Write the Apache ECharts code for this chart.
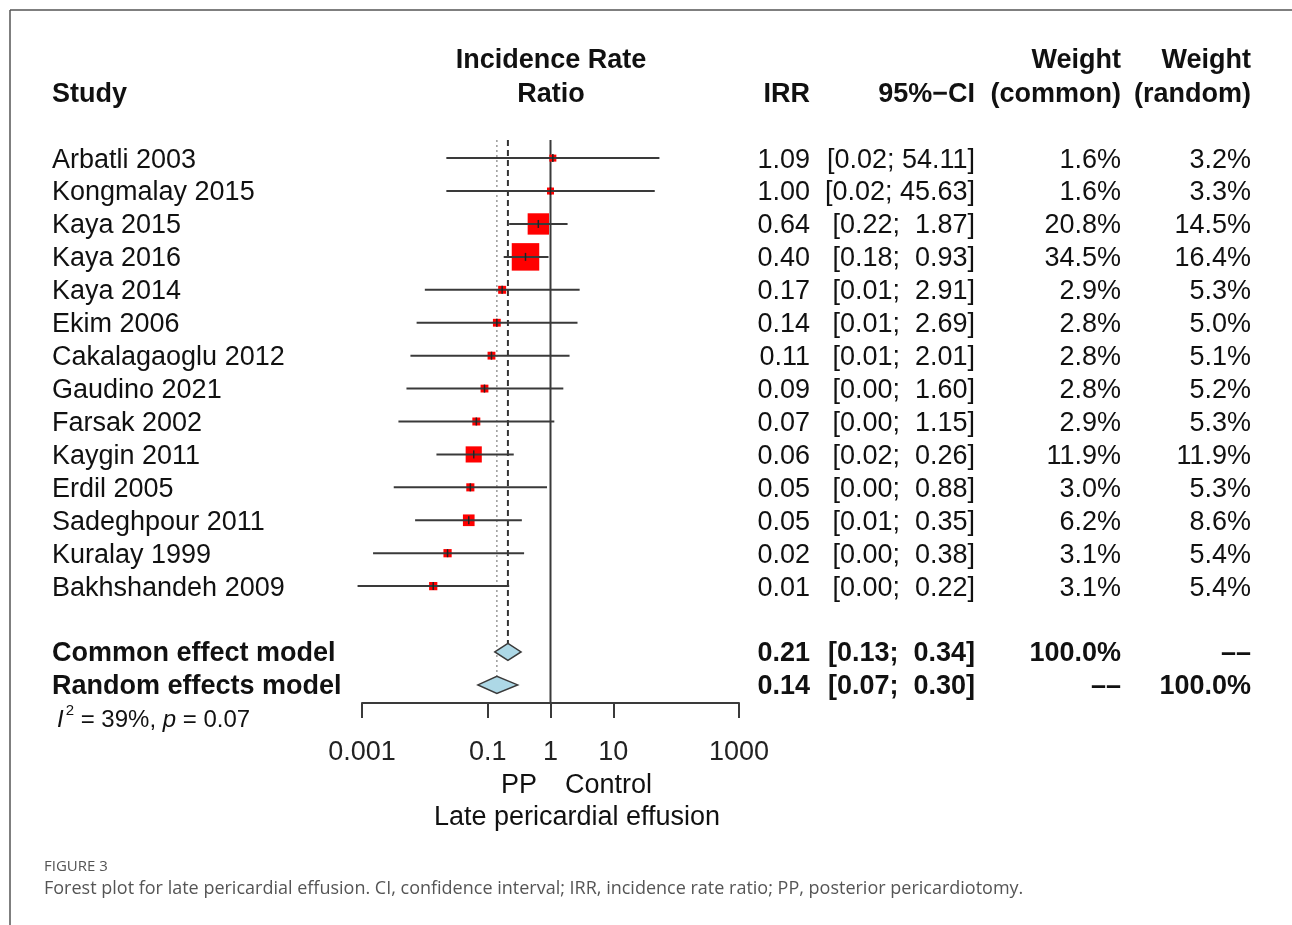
<!DOCTYPE html>
<html>
<head>
<meta charset="utf-8">
<title>Forest plot</title>
<script src="https://cdn.jsdelivr.net/npm/echarts@6/dist/echarts.min.js"></script>
<style>
  html, body { margin: 0; padding: 0; background: #fff; }
  #forest { width: 1292px; height: 925px; }
</style>
</head>
<body>
<div id="forest"></div>
<script>
// study labels
const studies = [
  "Arbatli 2003", "Kongmalay 2015", "Kaya 2015", "Kaya 2016", "Kaya 2014",
  "Ekim 2006", "Cakalagaoglu 2012", "Gaudino 2021", "Farsak 2002", "Kaygin 2011",
  "Erdil 2005", "Sadeghpour 2011", "Kuralay 1999", "Bakhshandeh 2009"
];
// printed columns
const irrText = ["1.09", "1.00", "0.64", "0.40", "0.17", "0.14", "0.11", "0.09", "0.07", "0.06", "0.05", "0.05", "0.02", "0.01"];
const ciText = [
  "[0.02; 54.11]", "[0.02; 45.63]", "[0.22;  1.87]", "[0.18;  0.93]", "[0.01;  2.91]",
  "[0.01;  2.69]", "[0.01;  2.01]", "[0.00;  1.60]", "[0.00;  1.15]", "[0.02;  0.26]",
  "[0.00;  0.88]", "[0.01;  0.35]", "[0.00;  0.38]", "[0.00;  0.22]"
];
const weightCommon = [1.6, 1.6, 20.8, 34.5, 2.9, 2.8, 2.8, 2.8, 2.9, 11.9, 3.0, 6.2, 3.1, 3.1];
const weightRandom = [3.2, 3.3, 14.5, 16.4, 5.3, 5.0, 5.1, 5.2, 5.3, 11.9, 5.3, 8.6, 5.4, 5.4];
// plotted estimates (unrounded where the print shows 0.00)
const irrPlot = [1.09, 1.00, 0.64, 0.40, 0.17, 0.14, 0.115, 0.089, 0.066, 0.06, 0.053, 0.05, 0.023, 0.0136];
const lowPlot = [0.022, 0.022, 0.22, 0.18, 0.010, 0.0074, 0.0059, 0.0051, 0.0038, 0.0153, 0.0032, 0.007, 0.0015, 0.00085];
const highPlot = [54.11, 45.63, 1.87, 0.93, 2.91, 2.69, 2.01, 1.60, 1.15, 0.26, 0.88, 0.35, 0.38, 0.22];

// pooled models
const pooledNames = ["Common effect model", "Random effects model"];
const pooledEst = [0.21, 0.14];
const pooledLow = [0.13, 0.07];
const pooledHigh = [0.34, 0.30];
const pooledIrrText = ["0.21", "0.14"];
const pooledCiText = ["[0.13;  0.34]", "[0.07;  0.30]"];
const pooledWcText = ["100.0%", "\u2013\u2013"];
const pooledWrText = ["\u2013\u2013", "100.0%"];

// x axis ticks
const tickValues = [0.001, 0.1, 1, 10, 1000];

const FONT = '"Liberation Sans", Arial, Helvetica, sans-serif';
const FS = 27;
const TY = 2; // nudge text down to the optical centre of each row
const LINE = "#3a3a3a";
const pooledRow0 = studies.length + 1; // blank line before the pooled rows

// table rows built from the arrays above
const tableRows = studies.map((s, i) => ({
  row: i, bold: false, name: s, irr: irrText[i], ci: ciText[i],
  wc: weightCommon[i].toFixed(1) + "%", wr: weightRandom[i].toFixed(1) + "%"
}));
pooledNames.forEach((n, k) => {
  tableRows.push({
    row: pooledRow0 + k, bold: true, name: n, irr: pooledIrrText[k], ci: pooledCiText[k],
    wc: pooledWcText[k], wr: pooledWrText[k]
  });
});

function txt(text, x, y, align, bold, size) {
  return {
    type: "text", x: x, y: y + TY,
    style: {
      text: text, fill: "#111", align: align, verticalAlign: "middle",
      fontFamily: FONT, fontSize: size || FS, fontWeight: bold ? "bold" : "normal"
    }
  };
}

// measure text so the I^2 line can be laid out piece by piece
const measureCtx = document.createElement("canvas").getContext("2d");
function textWidth(s, size, italic) {
  measureCtx.font = (italic ? "italic " : "") + size + "px " + FONT;
  return measureCtx.measureText(s).width;
}

function hetLine(x, y) {
  const fs = 24;
  const parts = [
    { t: "I", it: true, fs: fs, dy: 0 },
    { t: "2", it: false, fs: 15, dy: -9 },
    { t: " = 39%, ", it: false, fs: fs, dy: 0 },
    { t: "p", it: true, fs: fs, dy: 0 },
    { t: " = 0.07", it: false, fs: fs, dy: 0 }
  ];
  const out = [];
  let cx = x;
  parts.forEach((p) => {
    out.push({
      type: "text", x: cx, y: y + p.dy,
      style: {
        text: p.t, fill: "#111", align: "left", verticalAlign: "middle",
        fontFamily: FONT, fontSize: p.fs, fontStyle: p.it ? "italic" : "normal"
      }
    });
    cx += textWidth(p.t, p.fs, p.it) + (p.t === "I" ? 2 : 0);
  });
  return out;
}

const chart = echarts.init(document.getElementById("forest"));

const option = {
  animation: false,
  backgroundColor: "#fff",
  grid: { left: 362, right: 553, top: 140, bottom: 222 },
  xAxis: {
    type: "log",
    logBase: 10,
    min: 0.001,
    max: 1000,
    splitLine: { show: false },
    axisLine: { show: true, onZero: false, lineStyle: { color: LINE, width: 2 } },
    axisTick: { show: true, length: 15, customValues: tickValues, lineStyle: { color: LINE, width: 2 } },
    minorTick: { show: false },
    axisLabel: {
      customValues: tickValues,
      margin: 36,
      fontFamily: FONT,
      fontSize: FS,
      color: "#222",
      formatter: (v) => String(parseFloat(Number(v).toPrecision(6)))
    }
  },
  yAxis: { type: "value", inverse: true, min: -0.55, max: 16.55, show: false },
  series: [
    // reference lines: no effect, common, random
    {
      type: "line", silent: true, symbol: "none", z: 1,
      data: [[1, -0.55], [1, 16.55]],
      lineStyle: { color: LINE, width: 2 }
    },
    {
      type: "line", silent: true, symbol: "none", z: 1,
      data: [[pooledEst[0], -0.55], [pooledEst[0], pooledRow0 - 0.26]],
      lineStyle: { color: "#333", width: 2, type: [6, 4] }
    },
    {
      type: "line", silent: true, symbol: "none", z: 1,
      data: [[pooledEst[1], -0.55], [pooledEst[1], pooledRow0 + 1 - 0.26]],
      lineStyle: { color: "#999", width: 1.5, type: [2, 3] }
    },
    // study squares and CIs
    {
      type: "custom", z: 3,
      data: studies.map((s, i) => [irrPlot[i], lowPlot[i], highPlot[i], weightCommon[i], i]),
      renderItem: (params, api) => {
        const r = api.value(4);
        const est = api.coord([api.value(0), r]);
        const lo = api.coord([api.value(1), r]);
        const hi = api.coord([api.value(2), r]);
        const size = Math.max(7, 27.5 * Math.sqrt(api.value(3) / 34.5));
        return {
          type: "group",
          children: [
            { type: "rect", shape: { x: est[0] - size / 2, y: est[1] - size / 2, width: size, height: size }, style: { fill: "#ff0000" } },
            { type: "line", shape: { x1: lo[0], y1: lo[1], x2: hi[0], y2: hi[1] }, style: { stroke: LINE, lineWidth: 2 } },
            { type: "line", shape: { x1: est[0], y1: est[1] - 4, x2: est[0], y2: est[1] + 4 }, style: { stroke: "#222", lineWidth: 1.5 } }
          ]
        };
      }
    },
    // pooled diamonds
    {
      type: "custom", z: 3,
      data: pooledEst.map((e, k) => [e, pooledLow[k], pooledHigh[k], pooledRow0 + k]),
      renderItem: (params, api) => {
        const r = api.value(3);
        const est = api.coord([api.value(0), r]);
        const lo = api.coord([api.value(1), r]);
        const hi = api.coord([api.value(2), r]);
        const h = 8.5;
        return {
          type: "polygon",
          shape: { points: [[lo[0], lo[1]], [est[0], est[1] - h], [hi[0], hi[1]], [est[0], est[1] + h]] },
          style: { fill: "#add8e6", stroke: LINE, lineWidth: 1.5 }
        };
      }
    },
    // table text
    {
      type: "custom", z: 4, silent: true,
      data: tableRows.map((t) => [1, t.row]),
      renderItem: (params, api) => {
        const t = tableRows[params.dataIndex];
        const y = api.coord([1, t.row])[1];
        return {
          type: "group",
          children: [
            txt(t.name, 52, y, "left", t.bold),
            txt(t.irr, 810, y, "right", t.bold),
            txt(t.ci, 975, y, "right", t.bold),
            txt(t.wc, 1121, y, "right", t.bold),
            txt(t.wr, 1251, y, "right", t.bold)
          ]
        };
      }
    }
  ],
  graphic: [
    // frame
    { type: "line", shape: { x1: 10, y1: 10, x2: 1292, y2: 10 }, style: { stroke: "#555", lineWidth: 1.5 } },
    { type: "line", shape: { x1: 10, y1: 10, x2: 10, y2: 925 }, style: { stroke: "#555", lineWidth: 1.5 } },
    // headers
    txt("Study", 52, 93, "left", true),
    txt("Incidence Rate", 551, 59, "center", true),
    txt("Ratio", 551, 93, "center", true),
    txt("IRR", 810, 93, "right", true),
    txt("95%\u2212CI", 975, 93, "right", true),
    txt("Weight", 1121, 59, "right", true),
    txt("(common)", 1121, 93, "right", true),
    txt("Weight", 1251, 59, "right", true),
    txt("(random)", 1251, 93, "right", true),
    // axis side labels
    txt("PP", 537, 784, "right", false),
    txt("Control", 565, 784, "left", false),
    txt("Late pericardial effusion", 577, 816, "center", false),
    // caption
    {
      type: "text", x: 44, y: 867,
      style: { text: "FIGURE 3", fill: "#555", fontFamily: '"Open Sans", sans-serif', fontSize: 15, verticalAlign: "middle" }
    },
    {
      type: "text", x: 44, y: 889,
      style: {
        text: "Forest plot for late pericardial effusion. CI, confidence interval; IRR, incidence rate ratio; PP, posterior pericardiotomy.",
        fill: "#555", fontFamily: '"Open Sans", sans-serif', fontSize: 18, verticalAlign: "middle"
      }
    }
  ].concat(hetLine(57, 720))
};

chart.setOption(option);
window.onresize = chart.resize;
</script>
</body>
</html>
